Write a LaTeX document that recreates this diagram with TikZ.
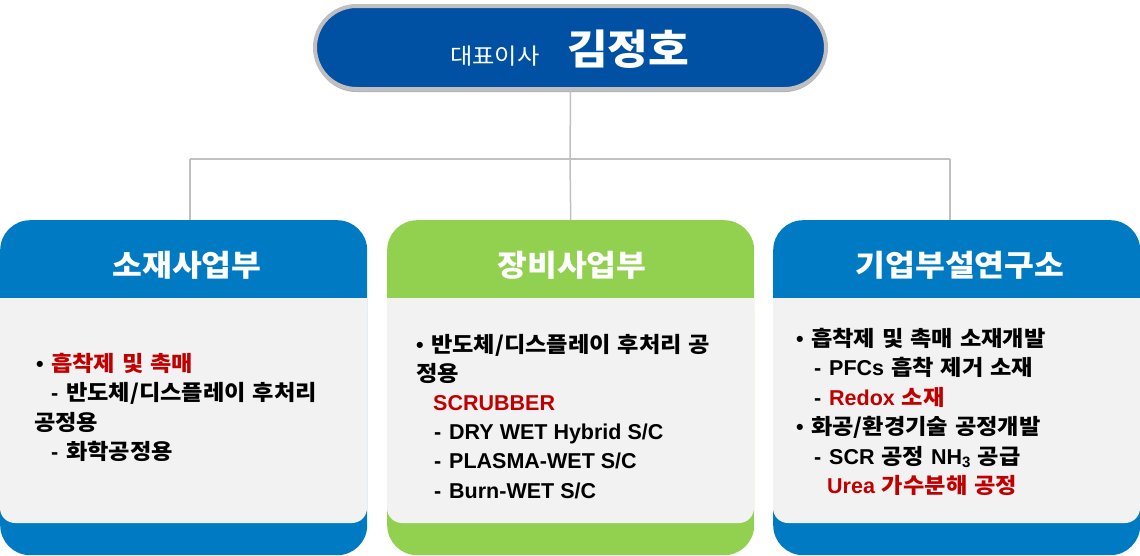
\documentclass[tikz,border=0pt]{standalone}
\usepackage{fontspec}
\setmainfont{Noto Sans CJK KR}[FakeStretch=1.08, WordSpace=1.3]
\newfontfamily\lat{Liberation Sans}
\usetikzlibrary{shadows}
\definecolor{ceoblue}{HTML}{0051A3}
\definecolor{ringgray}{HTML}{BFBFBF}
\definecolor{deptblue}{HTML}{007BC3}
\definecolor{deptgreen}{HTML}{92D050}
\definecolor{panelgray}{HTML}{F2F2F2}
\definecolor{linegray}{HTML}{C0C0C0}
\definecolor{itemred}{HTML}{C00000}
\newcommand{\bul}{\makebox[15pt][l]{\lat •}}
\newcommand{\dsh}{\makebox[15pt][l]{\lat -}}
\tikzset{
  ceobox/.style={draw=ringgray, line width=4pt, fill=ceoblue, rounded corners=41.5pt,
    minimum width=511pt, minimum height=83pt, inner sep=0pt,
    drop shadow={shadow xshift=0pt, shadow yshift=-3pt, opacity=0.3, fill=black}},
  deptbox/.style={rounded corners=30pt, minimum width=367pt, minimum height=335pt,
    inner sep=0pt, anchor=north west},
  depttitle/.style={anchor=base, text=white, inner sep=0pt,
    font=\fontsize{30}{36}\selectfont\bfseries},
  conn/.style={draw=linegray, line width=1.5pt},
  itemline/.style={anchor=base west, inner sep=0pt,
    font=\fontsize{21.5}{26}\selectfont\bfseries},
}
\begin{document}
\begin{tikzpicture}[x=1pt,y=-1pt]
\useasboundingbox (0,0) rectangle (1140,555);
% department boxes
\node (box1) [deptbox, fill=deptblue] at (0,220) {};
\node (box2) [deptbox, fill=deptgreen] at (387,220) {};
\node (box3) [deptbox, fill=deptblue] at (773,220) {};
\foreach \bx in {0,387,773}{
  \fill[panelgray, rounded corners=15pt] (\bx,298) rectangle (\bx+367,523);
  \fill[panelgray] (\bx,298) rectangle (\bx+367,330);
}
% CEO
\node (ceo) [ceobox] at (570.5,47.5) {};
\node (ceorole) [anchor=base west, inner sep=0pt, text=white, font=\fontsize{22.5}{26}\selectfont] at (450,64) {대표이사};
\node (ceoname) [anchor=base west, inner sep=0pt, text=white, font=\fontsize{41}{46}\selectfont\bfseries] at (567,64) {김정호};
% connectors
\coordinate (hub) at (570,159);
\coordinate (hubL) at (190,159);
\coordinate (hubR) at (950,159);
\draw[conn] (ceo.south) -- (hub);
\draw[conn] (hubL) -- (hubR);
\draw[conn] (hubL) -- (hubL |- box1.north);
\draw[conn] (hub) -- (box2.north);
\draw[conn] (hubR) -- (hubR |- box3.north);
% titles
\node (t1) [depttitle] at (187,276) {소재사업부};
\node (t2) [depttitle] at (572,276) {장비사업부};
\node (t3) [depttitle] at (960,276) {기업부설연구소};
% left items
\node (a1) [itemline] at (36,371) {\bul{\color{itemred}흡착제 및 촉매}};
\node (a2) [itemline] at (51,400.5) {\dsh 반도체/디스플레이 후처리};
\node (a3) [itemline] at (34,430) {공정용};
\node (a4) [itemline] at (51,459.5) {\dsh 화학공정용};
% middle items
\node (b1) [itemline] at (416,352) {\bul 반도체/디스플레이 후처리 공};
\node (b2) [itemline] at (416,381.2) {정용};
\node (b3) [itemline, text=itemred] at (433,410.4) {\lat SCRUBBER};
\node (b4) [itemline] at (434,439.6) {\dsh{\lat DRY WET Hybrid S/C}};
\node (b5) [itemline] at (434,468.8) {\dsh{\lat PLASMA-WET S/C}};
\node (b6) [itemline] at (434,498) {\dsh{\lat Burn-WET S/C}};
% right items
\node (c1) [itemline] at (796,346) {\bul 흡착제 및 촉매 소재개발};
\node (c2) [itemline] at (814,375.5) {\dsh{\lat PFCs} 흡착 제거 소재};
\node (c3) [itemline] at (814,405) {\dsh{\color{itemred}{\lat Redox} 소재}};
\node (c4) [itemline] at (796,434.5) {\bul 화공/환경기술 공정개발};
\node (c5) [itemline] at (814,464) {\dsh{\lat SCR} 공정 {\lat NH\textsubscript{3}} 공급};
\node (c6) [itemline, text=itemred] at (827,493.5) {{\lat Urea} 가수분해 공정};
\end{tikzpicture}
\end{document}
